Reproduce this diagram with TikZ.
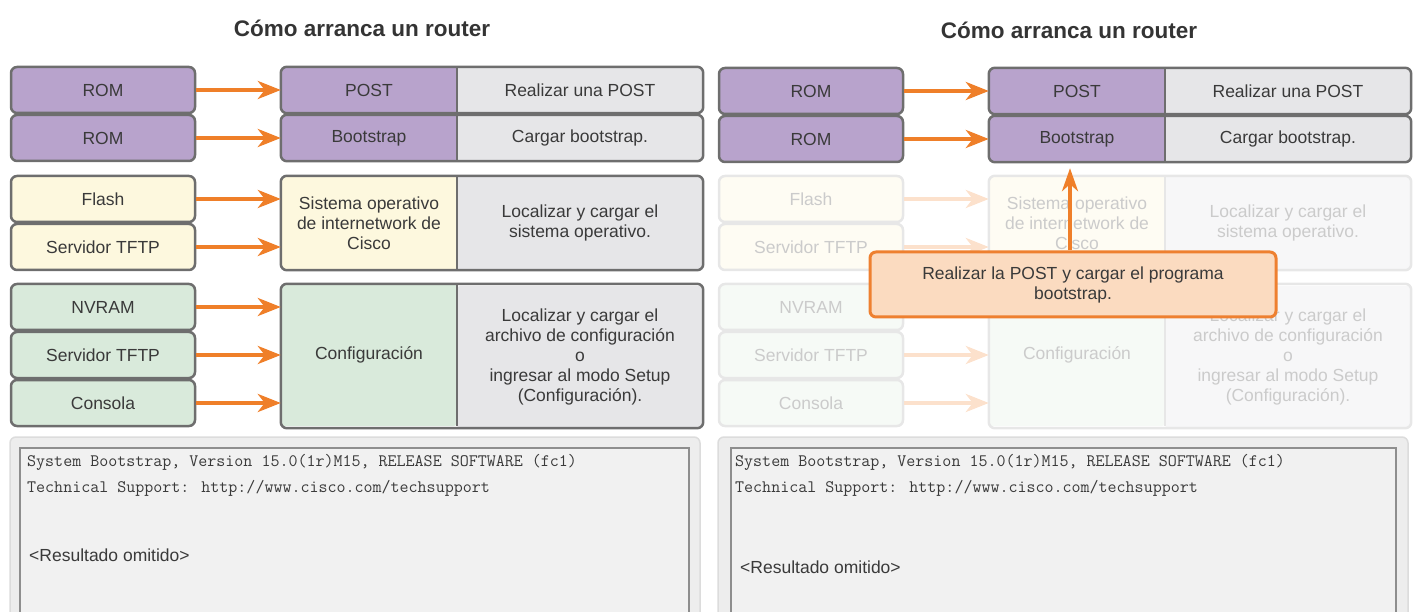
\documentclass[tikz,border=0pt]{standalone}
\usepackage{fontspec}
\setmainfont{Liberation Sans}
\usetikzlibrary{arrows.meta}
\definecolor{edgegray}{HTML}{6E6E6E}
\definecolor{txt}{HTML}{3A3A3A}
\definecolor{romfill}{HTML}{B8A3CC}
\definecolor{flashfill}{HTML}{FDF8DE}
\definecolor{cfgfill}{HTML}{D9EADB}
\definecolor{descfill}{HTML}{E6E6E8}
\definecolor{arrorange}{HTML}{EF7F29}
\definecolor{notefill}{HTML}{FBDBC0}
\definecolor{noteedge}{HTML}{EE8030}
\definecolor{flashfade}{HTML}{FEFCF3}
\definecolor{cfgfade}{HTML}{F6FAF6}
\definecolor{descfade}{HTML}{F7F7F8}
\definecolor{edgefade}{HTML}{E7E7E7}
\definecolor{textfade}{HTML}{CBCBCB}
\definecolor{arrowfade}{HTML}{FCE1CC}
\definecolor{panelfill}{HTML}{EDEDED}
\definecolor{paneledge}{HTML}{DCDCDC}
\definecolor{termfill}{HTML}{F1F1F1}
\definecolor{termedge}{HTML}{8E8E8E}

\begin{document}
\begin{tikzpicture}[x=1pt, y=-1pt]
        \tikzset{
            boxfont/.style={font=\fontsize{17.5}{20}\selectfont},
            heading/.style={font=\fontsize{22.5}{26}\selectfont\bfseries, text=txt!90!black},
            srcbox/.style={boxfont, minimum width=184pt, minimum height=46pt, inner sep=0pt,
                rounded corners=6pt, draw=edgegray, line width=2.5pt, text=txt},
            stagebox/.style={boxfont, minimum width=176pt, minimum height=#1, inner sep=0pt,
                rounded corners=3pt, align=center, text=txt},
            descbox/.style={boxfont, minimum width=246pt, minimum height=#1, inner sep=0pt,
                rounded corners=3pt, align=center, fill=descfill, text=txt},
            faded/.style={draw=edgefade, text=textfade},
            frame/.style={draw=edgegray, line width=2.5pt, rounded corners=6pt},
            divider/.style={draw=edgegray, line width=2.5pt},
            feed/.style={draw=arrorange, line width=4pt, -{Stealth[length=23pt, width=18pt, inset=7pt]}},
            lift/.style={draw=arrorange, line width=3.5pt, -{Stealth[length=23pt, width=16pt, inset=7pt]}},
            note/.style={boxfont, minimum width=406pt, minimum height=65pt, inner sep=0pt, align=center,
                fill=notefill, draw=noteedge, line width=3pt, rounded corners=6pt, text=txt},
            termpanel/.style={fill=panelfill, draw=paneledge, line width=1.5pt, rounded corners=6pt},
            termbox/.style={fill=termfill, draw=termedge, line width=2pt},
            termtext/.style={anchor=west, inner sep=0pt, font=\ttfamily\fontsize{17.5}{19}\selectfont, text=txt},
            outtext/.style={anchor=west, inner sep=0pt, boxfont, text=txt}
        }
        \clip (0,0) rectangle (1414,612);

        % left: whole boot sequence
        \begin{scope}[shift={(0,0)}]
            \node[heading] (l-title) at (362,28) {Cómo arranca un router};

            \node[srcbox, fill=romfill] (l-rom1) at (103,90) {ROM};
            \node[srcbox, fill=romfill] (l-rom2) at (103,138) {ROM};
            \node[srcbox, fill=flashfill] (l-flash) at (103,199) {Flash};
            \node[srcbox, fill=flashfill] (l-tftp1) at (103,247) {Servidor TFTP};
            \node[srcbox, fill=cfgfill] (l-nvram) at (103,307) {NVRAM};
            \node[srcbox, fill=cfgfill] (l-tftp2) at (103,355) {Servidor TFTP};
            \node[srcbox, fill=cfgfill] (l-cons) at (103,403) {Consola};

            \node[stagebox=46pt, fill=romfill] (l-post) at (369,90) {POST};
            \node[descbox=46pt] (l-post-d) at (580,90) {Realizar una POST};
            \node[stagebox=46pt, fill=romfill] (l-boot) at (369,138) {Bootstrap};
            \node[descbox=46pt] (l-boot-d) at (580,138) {Cargar bootstrap.};
            \node[stagebox=94pt, fill=flashfill] (l-ios) at (369,223) {Sistema operativo\\de internetwork de\\Cisco};
            \node[descbox=94pt] (l-ios-d) at (580,223) {Localizar y cargar el\\sistema operativo.};
            \node[stagebox=142pt, fill=cfgfill] (l-cfg) at (369,355) {Configuración};
            \node[descbox=142pt] (l-cfg-d) at (580,357) {Localizar y cargar el\\archivo de configuración\\o\\ingresar al modo Setup\\(Configuración).};

            \draw[frame] (l-post.north west) rectangle (l-post-d.south east);
            \draw[divider] (l-post.north east) -- (l-post.south east);
            \draw[frame] (l-boot.north west) rectangle (l-boot-d.south east);
            \draw[divider] (l-boot.north east) -- (l-boot.south east);
            \draw[frame] (l-ios.north west) rectangle (l-ios-d.south east);
            \draw[divider] (l-ios.north east) -- (l-ios.south east);
            \draw[frame] (l-cfg.north west) rectangle (l-cfg-d.south east);
            \draw[divider] (l-cfg.north east) -- (l-cfg.south east);

            \draw[feed] (l-rom1.east) -- (l-rom1.east -| l-post.west);
            \draw[feed] (l-rom2.east) -- (l-rom2.east -| l-boot.west);
            \draw[feed] (l-flash.east) -- (l-flash.east -| l-ios.west);
            \draw[feed] (l-tftp1.east) -- (l-tftp1.east -| l-ios.west);
            \draw[feed] (l-nvram.east) -- (l-nvram.east -| l-cfg.west);
            \draw[feed] (l-tftp2.east) -- (l-tftp2.east -| l-cfg.west);
            \draw[feed] (l-cons.east) -- (l-cons.east -| l-cfg.west);

            \draw[termpanel] (10,437) rectangle (700,640);
            \draw[termbox] (20,448) rectangle (689,640);
            \node[termtext] (l-line1) at (27,462) {System Bootstrap, Version 15.0(1r)M15, RELEASE SOFTWARE (fc1)};
            \node[termtext] (l-line2) at (27,488) {Technical Support: http://www.cisco.com/techsupport};
            \node[outtext] (l-omit) at (29,555) {<Resultado omitido>};
        \end{scope}

        % right: POST and bootstrap only
        \begin{scope}[shift={(708,0)}]
            \node[heading] (r-title) at (361,30) {Cómo arranca un router};

            \node[srcbox, fill=romfill] (r-rom1) at (103,91) {ROM};
            \node[srcbox, fill=romfill] (r-rom2) at (103,139) {ROM};
            \node[srcbox, faded, fill=flashfade] (r-flash) at (103,199) {Flash};
            \node[srcbox, faded, fill=flashfade] (r-tftp1) at (103,247) {Servidor TFTP};
            \node[srcbox, faded, fill=cfgfade] (r-nvram) at (103,307) {NVRAM};
            \node[srcbox, faded, fill=cfgfade] (r-tftp2) at (103,355) {Servidor TFTP};
            \node[srcbox, faded, fill=cfgfade] (r-cons) at (103,403) {Consola};

            \node[stagebox=46pt, fill=romfill] (r-post) at (369,91) {POST};
            \node[descbox=46pt] (r-post-d) at (580,91) {Realizar una POST};
            \node[stagebox=46pt, fill=romfill] (r-boot) at (369,139) {Bootstrap};
            \node[descbox=46pt] (r-boot-d) at (580,139) {Cargar bootstrap.};
            \node[stagebox=94pt, fill=flashfade, text=textfade] (r-ios) at (369,223) {Sistema operativo\\de internetwork de\\Cisco};
            \node[descbox=94pt, fill=descfade, text=textfade] (r-ios-d) at (580,223) {Localizar y cargar el\\sistema operativo.};
            \node[stagebox=142pt, fill=cfgfade, text=textfade] (r-cfg) at (369,355) {Configuración};
            \node[descbox=142pt, fill=descfade, text=textfade] (r-cfg-d) at (580,357) {Localizar y cargar el\\archivo de configuración\\o\\ingresar al modo Setup\\(Configuración).};

            \draw[frame] (r-post.north west) rectangle (r-post-d.south east);
            \draw[divider] (r-post.north east) -- (r-post.south east);
            \draw[frame] (r-boot.north west) rectangle (r-boot-d.south east);
            \draw[divider] (r-boot.north east) -- (r-boot.south east);
            \draw[frame, draw=edgefade] (r-ios.north west) rectangle (r-ios-d.south east);
            \draw[divider, draw=edgefade] (r-ios.north east) -- (r-ios.south east);
            \draw[frame, draw=edgefade] (r-cfg.north west) rectangle (r-cfg-d.south east);
            \draw[divider, draw=edgefade] (r-cfg.north east) -- (r-cfg.south east);

            \draw[feed] (r-rom1.east) -- (r-rom1.east -| r-post.west);
            \draw[feed] (r-rom2.east) -- (r-rom2.east -| r-boot.west);
            \draw[feed, draw=arrowfade] (r-flash.east) -- (r-flash.east -| r-ios.west);
            \draw[feed, draw=arrowfade] (r-tftp1.east) -- (r-tftp1.east -| r-ios.west);
            \draw[feed, draw=arrowfade] (r-nvram.east) -- (r-nvram.east -| r-cfg.west);
            \draw[feed, draw=arrowfade] (r-tftp2.east) -- (r-tftp2.east -| r-cfg.west);
            \draw[feed, draw=arrowfade] (r-cons.east) -- (r-cons.east -| r-cfg.west);

            \node[note] (r-note) at (365,284.5) {Realizar la POST y cargar el programa\\bootstrap.};
            \draw[lift, shorten >=6pt] ([xshift=-3pt]r-note.north) -- ([xshift=-3pt]r-note.north |- r-boot.south);

            \draw[termpanel] (10,437) rectangle (700,640);
            \draw[termbox] (23,448) rectangle (688,640);
            \node[termtext] (r-line1) at (27,462) {System Bootstrap, Version 15.0(1r)M15, RELEASE SOFTWARE (fc1)};
            \node[termtext] (r-line2) at (27,488) {Technical Support: http://www.cisco.com/techsupport};
            \node[outtext] (r-omit) at (32,567) {<Resultado omitido>};
        \end{scope}
    \end{tikzpicture}
\end{document}
